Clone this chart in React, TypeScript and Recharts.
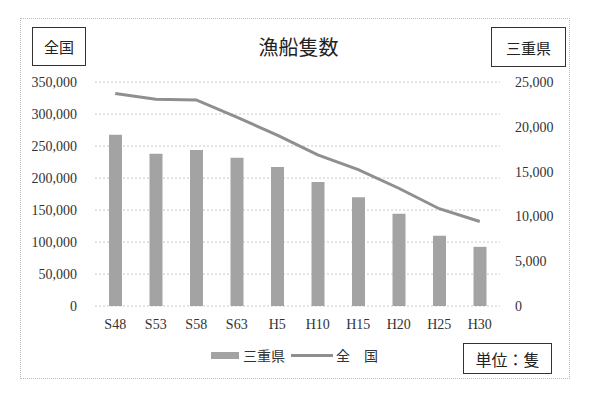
import React from 'react';
import {
    ComposedChart,
    Bar,
    Line,
    XAxis,
    YAxis,
    CartesianGrid,
    Legend,
} from 'recharts';

// 年次
const years = ['S48', 'S53', 'S58', 'S63', 'H5', 'H10', 'H15', 'H20', 'H25', 'H30'];
// 三重県の漁船隻数 (右軸)
const mieBoats = [19100, 17000, 17400, 16550, 15500, 13850, 12150, 10300, 7850, 6600];
// 全国の漁船隻数 (左軸)
const nationalBoats = [332000, 323000, 322000, 295000, 267000, 236000, 213000, 184000, 152000, 132000];

const leftTicks = [0, 50000, 100000, 150000, 200000, 250000, 300000, 350000];
const rightTicks = [0, 5000, 10000, 15000, 20000, 25000];

const data = years.map((year, i) => ({
    year,
    mie: mieBoats[i],
    national: nationalBoats[i],
}));

const FONT = '"Liberation Serif", "Noto Sans CJK JP", serif';
const BAR_COLOR = '#a3a3a3';
const LINE_COLOR = '#8f8f8f';

const fmt = (v: number) => v.toLocaleString('en-US');

function LegendContent(props: any) {
    const { payload } = props;
    return (
        <div style={{ display: 'flex', justifyContent: 'center', alignItems: 'center', height: 20, fontFamily: FONT, fontSize: 14, color: '#333' }}>
            {(payload || []).map((entry: any) => (
                <div key={entry.value} style={{ display: 'flex', alignItems: 'center', marginRight: 6 }}>
                    {entry.type === 'rect' ? (
                        <span style={{ display: 'inline-block', width: 28, height: 7, background: BAR_COLOR, marginRight: 4 }} />
                    ) : (
                        <span style={{ display: 'inline-block', width: 42, height: 3, background: LINE_COLOR, marginRight: 3 }} />
                    )}
                    <span>{entry.value}</span>
                </div>
            ))}
        </div>
    );
}

const boxStyle: React.CSSProperties = {
    position: 'absolute',
    border: '1.5px solid #333',
    background: '#fff',
    fontFamily: FONT,
    color: '#222',
    display: 'flex',
    alignItems: 'center',
    justifyContent: 'center',
    boxSizing: 'border-box',
};

export default function App() {
    return (
        <div style={{ position: 'absolute', left: 0, top: 0, width: 597, height: 393, background: '#fff' }}>
            <div style={{ position: 'absolute', left: 20, top: 18, width: 550, height: 361, border: '1px dotted #bbb', boxSizing: 'border-box' }} />
            <ComposedChart
                width={597}
                height={393}
                data={data}
                margin={{ top: 82, right: 37, bottom: 28, left: 35 }}
            >
                <CartesianGrid yAxisId="left" vertical={false} stroke="#c8c8c8" strokeDasharray="2 2" />
                <XAxis
                    dataKey="year"
                    height={39}
                    tickLine={false}
                    axisLine={false}
                    tickMargin={7}
                    tick={{ fill: '#333', fontSize: 14, fontFamily: FONT }}
                />
                <YAxis
                    yAxisId="left"
                    orientation="left"
                    width={60}
                    domain={[0, 350000]}
                    ticks={leftTicks}
                    tickFormatter={fmt}
                    tickLine={false}
                    axisLine={false}
                    tickMargin={12}
                    tick={{ fill: '#333', fontSize: 14, fontFamily: FONT }}
                />
                <YAxis
                    yAxisId="right"
                    orientation="right"
                    width={60}
                    domain={[0, 25000]}
                    ticks={rightTicks}
                    tickFormatter={fmt}
                    tickLine={false}
                    axisLine={false}
                    tickMargin={9}
                    tick={{ fill: '#333', fontSize: 14, fontFamily: FONT }}
                />
                <Legend verticalAlign="bottom" align="center" content={<LegendContent />} />
                <Bar yAxisId="right" dataKey="mie" name="三重県" fill={BAR_COLOR} barSize={13} legendType="rect" isAnimationActive={false} />
                <Line
                    yAxisId="left"
                    dataKey="national"
                    name="全　国"
                    type="linear"
                    stroke={LINE_COLOR}
                    strokeWidth={3}
                    dot={false}
                    activeDot={false}
                    legendType="line"
                    isAnimationActive={false}
                />
            </ComposedChart>
            <div style={{ position: 'absolute', left: 0, top: 32, width: 597, textAlign: 'center', fontFamily: FONT, fontSize: 20, color: '#222' }}>
                漁船隻数
            </div>
            <div style={{ ...boxStyle, left: 32, top: 27, width: 54, height: 39, fontSize: 15 }}>全国</div>
            <div style={{ ...boxStyle, left: 491, top: 27, width: 75, height: 40, fontSize: 15 }}>三重県</div>
            <div style={{ ...boxStyle, left: 463, top: 343, width: 89, height: 31, fontSize: 16 }}>単位：隻</div>
        </div>
    );
}
